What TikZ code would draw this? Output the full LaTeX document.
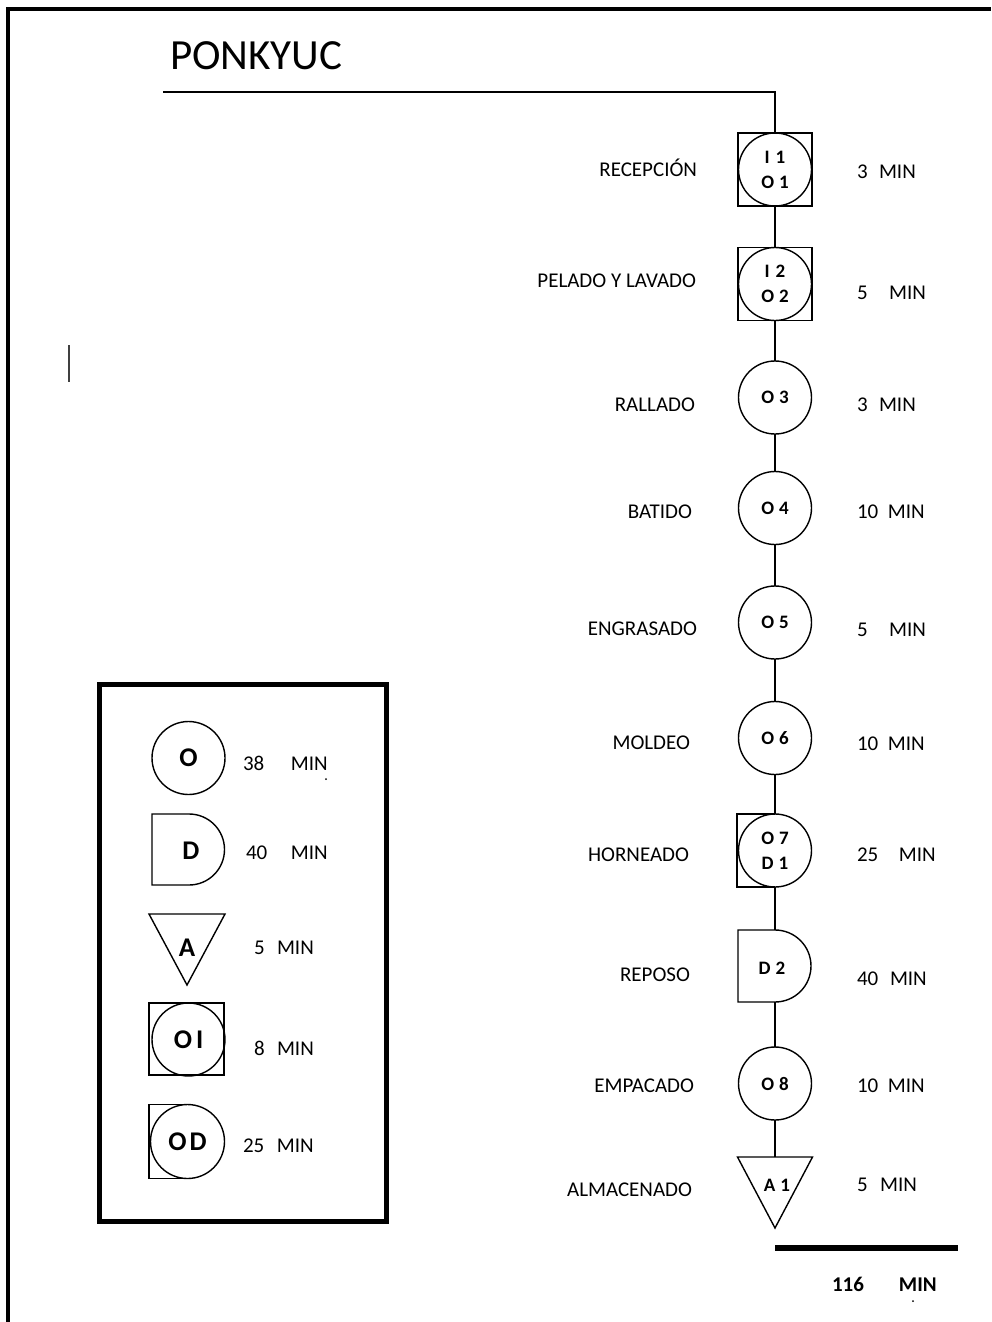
\documentclass[tikz,border=0pt]{standalone}
\usepackage{fontspec}
\setmainfont{Carlito}
\begin{document}
\begin{tikzpicture}[x=1pt,y=-1pt,
  every node/.style={inner sep=0pt, outer sep=0pt},
  ln/.style={line width=1.4pt},
  opc/.style={circle, draw, line width=1.4pt, minimum size=73pt, font=\fontsize{19}{25}\selectfont\bfseries, align=center},
  hold/.style={minimum width=74pt, minimum height=72pt, font=\fontsize{19}{25}\selectfont\bfseries, align=center},
  code/.style={font=\fontsize{19}{25}\selectfont\bfseries, align=center},
  act/.style={font=\fontsize{21}{24}\selectfont, anchor=east, text height=13.5pt, text depth=0pt},
  tm/.style={font=\fontsize{21}{24}\selectfont, anchor=west, text height=13.5pt, text depth=0pt},
  tmb/.style={font=\fontsize{21}{24}\selectfont\bfseries, anchor=west, text height=13.5pt, text depth=0pt},
  leg/.style={font=\fontsize{27}{30}\selectfont\bfseries},
]
\useasboundingbox (0,0) rectangle (991,1322);
\fill[white] (0,0) rectangle (991,1322);
% page border
\draw[line width=4pt] (7.5,1322) -- (7.5,9) -- (991,9);
% cursor mark
\draw[line width=2pt, black!75] (69,345) -- (69,382);
% title
\node[anchor=base west, font=\fontsize{43}{47}\selectfont] (title) at (170,70) {PONKYUC};
\coordinate (t0) at (163,92);

% main nodes
\node[opc] (n1) at (775,169.5) {I\hspace{6pt}1\\O\hspace{5pt}1};
\draw[ln] (n1.center) +(-37,-36.5) rectangle +(37,36.5);
\node[opc] (n2) at (775,284) {I\hspace{6pt}2\\O\hspace{5pt}2};
\draw[ln] (n2.center) +(-37,-36.5) rectangle +(37,36.5);
\node[opc] (n3) at (775,397.5) {O\hspace{5pt}3};
\node[opc] (n4) at (775,508) {O\hspace{5pt}4};
\node[opc] (n5) at (775,622.5) {O\hspace{5pt}5};
\node[opc] (n6) at (775,738) {O\hspace{5pt}6};
\node[opc] (n7) at (775,850.5) {O\hspace{5pt}7\\D\hspace{5pt}1};
\draw[ln] (n7.north) -- ++(-38,0) -- ++(0,73) -- (n7.south);
\node[hold] (n8) at (775,966) {};
\draw[ln] (n8.north) -- (n8.north west) -- (n8.south west) -- (n8.south) arc[start angle=90, end angle=-90, radius=36];
\node[code] (n8t) at (772,968) {D\hspace{5pt}2};
\node[opc] (n9) at (775,1083.5) {O\hspace{5pt}8};
\node[minimum width=75pt, minimum height=71pt] (n10) at (775,1192.5) {};
\draw[ln] (n10.north west) -- (n10.north east) -- (n10.south) -- cycle;
\node[code] (n10t) at (777,1185) {A\hspace{5pt}1};

% connectors
\draw[ln] (t0) -| (n1.north);
\draw[ln] (n1.south) -- (n2.north);
\draw[ln] (n2.south) -- (n3.north);
\draw[ln] (n3.south) -- (n4.north);
\draw[ln] (n4.south) -- (n5.north);
\draw[ln] (n5.south) -- (n6.north);
\draw[ln] (n6.south) -- (n7.north);
\draw[ln] (n7.south) -- (n8.north);
\draw[ln] (n8.south) -- (n9.north);
\draw[ln] (n9.south) -- (n10.north);

% activity labels
\node[act] (a1) at (697,170) {RECEPCIÓN};
\node[act] (a2) at (696,281) {PELADO Y LAVADO};
\node[act] (a3) at (695,405) {RALLADO};
\node[act] (a4) at (692,512) {BATIDO};
\node[act] (a5) at (697,629) {ENGRASADO};
\node[act] (a6) at (690,743) {MOLDEO};
\node[act] (a7) at (689,855) {HORNEADO};
\node[act] (a8) at (690,975) {REPOSO};
\node[act] (a9) at (694,1086) {EMPACADO};
\node[act] (a10) at (692,1190) {ALMACENADO};

% times
\node[tm] (m1) at (857,172) {3\hspace{11.4pt}MIN};
\node[tm] (m2) at (857,293) {5\hspace{21.4pt}MIN};
\node[tm] (m3) at (857,405) {3\hspace{11.4pt}MIN};
\node[tm] (m4) at (857,512) {10\hspace{9.7pt}MIN};
\node[tm] (m5) at (857,630) {5\hspace{21.4pt}MIN};
\node[tm] (m6) at (857,744) {10\hspace{9.7pt}MIN};
\node[tm] (m7) at (857,855) {25\hspace{20.7pt}MIN};
\node[tm] (m8) at (857,979) {40\hspace{11.7pt}MIN};
\node[tm] (m9) at (857,1086) {10\hspace{9.7pt}MIN};
\node[tm] (m10) at (857,1185) {5\hspace{12.4pt}MIN};

% total
\coordinate (s0) at (775,1248);
\coordinate (s1) at (958,1248);
\draw[line width=6pt] (s0) -- (s1);
\node[tmb] (tot) at (832,1285) {116\hspace{35pt}MIN};
\fill (913,1301) circle[radius=1pt];

% legend
\draw[line width=5pt] (99,684) rectangle (386,1221);
\node[circle, draw, line width=1.4pt, minimum size=73pt, leg] (lo) at (188.5,758) {O};
\node[tm] (lm1) at (243,764) {38\hspace{26.7pt}MIN};
\fill (326,779) circle[radius=1pt];
\node[minimum width=74pt, minimum height=71pt] (ld) at (189,849.5) {};
\draw[ln] (ld.north) -- (ld.north west) -- (ld.south west) -- (ld.south) arc[start angle=90, end angle=-90, radius=35.5];
\node[leg] (ldt) at (191,851) {D};
\node[tm] (lm2) at (246,853) {40\hspace{23.7pt}MIN};
\node[minimum width=76pt, minimum height=71pt] (la) at (187,949.5) {};
\draw[ln] (la.north west) -- (la.north east) -- (la.south) -- cycle;
\node[leg] (lat) at (187,948) {A};
\node[tm] (lm3) at (254,948) {5\hspace{12.4pt}MIN};
\node[circle, draw, line width=1.4pt, minimum size=73pt, leg] (loi) at (188.5,1039.5) {O\hspace{4pt}I};
\draw[ln] (loi.center) +(-39.5,-36.5) rectangle +(35.5,35.5);
\node[tm] (lm4) at (254,1049) {8\hspace{12.4pt}MIN};
\node[circle, draw, line width=1.4pt, minimum size=74pt, leg] (lod) at (187.5,1141.5) {O\hspace{3pt}D};
\draw[ln] (lod.north) -- ++(-38.5,0) -- ++(0,74) -- (lod.south);
\node[tm] (lm5) at (243,1146) {25\hspace{12.7pt}MIN};
\end{tikzpicture}
\end{document}
